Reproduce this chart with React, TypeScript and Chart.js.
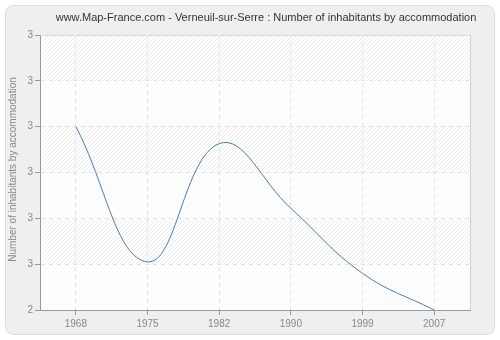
import React, { useEffect, useRef } from "react";
import { Chart, registerables } from "chart.js";

Chart.register(...registerables);

const years: string[] = ["1968", "1975", "1982", "1990", "1999", "2007"];
const inhabitantsPerHousing: number[] = [2.8, 2.505, 2.763, 2.622, 2.48, 2.4];
const yMin = 2.4;
const yMax = 3.0;
const yStep = 0.1;
const chartTitle = "www.Map-France.com - Verneuil-sur-Serre : Number of inhabitants by accommodation";
const yAxisTitle = "Number of inhabitants by accommodation";

const FONT = "'Liberation Sans', Arial, sans-serif";

function roundRect(ctx: CanvasRenderingContext2D, x: number, y: number, w: number, h: number, r: number) {
  ctx.beginPath();
  ctx.moveTo(x + r, y);
  ctx.lineTo(x + w - r, y);
  ctx.arcTo(x + w, y, x + w, y + r, r);
  ctx.lineTo(x + w, y + h - r);
  ctx.arcTo(x + w, y + h, x + w - r, y + h, r);
  ctx.lineTo(x + r, y + h);
  ctx.arcTo(x, y + h, x, y + h - r, r);
  ctx.lineTo(x, y + r);
  ctx.arcTo(x, y, x + r, y, r);
  ctx.closePath();
}

const backgroundPlugin = {
  id: "bgPanel",
  beforeDraw(chart: any) {
    const ctx: CanvasRenderingContext2D = chart.ctx;
    const { width, height } = chart;
    const ca = chart.chartArea;
    ctx.save();
    ctx.fillStyle = "#ffffff";
    ctx.fillRect(0, 0, width, height);
    roundRect(ctx, 5.5, 5.5, width - 11, height - 11, 8);
    ctx.fillStyle = "#efefef";
    ctx.fill();
    ctx.strokeStyle = "#dcdcdc";
    ctx.lineWidth = 1;
    ctx.stroke();

    // plot area
    ctx.fillStyle = "#ffffff";
    ctx.fillRect(ca.left, ca.top, ca.right - ca.left, ca.bottom - ca.top);
    const pc = document.createElement("canvas");
    pc.width = 4;
    pc.height = 4;
    const p = pc.getContext("2d")!;
    p.strokeStyle = "rgba(0,0,0,0.07)";
    p.lineWidth = 1;
    p.beginPath();
    p.moveTo(0, 4);
    p.lineTo(4, 0);
    p.moveTo(-1, 1);
    p.lineTo(1, -1);
    p.moveTo(3, 5);
    p.lineTo(5, 3);
    p.stroke();
    const pattern = ctx.createPattern(pc, "repeat");
    if (pattern) {
      ctx.fillStyle = pattern;
      ctx.fillRect(ca.left, ca.top, ca.right - ca.left, ca.bottom - ca.top);
    }
    // alternating lighter bands
    const ys = chart.scales.y;
    const n = Math.round((yMax - yMin) / yStep);
    ctx.fillStyle = "rgba(255,255,255,0.6)";
    for (let i = 0; i < n; i += 2) {
      const yb = ys.getPixelForValue(yMin + i * yStep);
      const yt = ys.getPixelForValue(yMin + (i + 1) * yStep);
      ctx.fillRect(ca.left, yt, ca.right - ca.left, yb - yt);
    }
    // plot frame
    ctx.strokeStyle = "#d0d0d0";
    ctx.strokeRect(ca.left + 0.5, ca.top + 0.5, ca.right - ca.left, ca.bottom - ca.top);
    ctx.restore();
  },
  afterDraw(chart: any) {
    const ctx: CanvasRenderingContext2D = chart.ctx;
    const ca = chart.chartArea;
    ctx.save();
    ctx.fillStyle = "#333333";
    ctx.font = `11px ${FONT}`;
    ctx.textAlign = "center";
    ctx.textBaseline = "middle";
    ctx.fillText(chartTitle, 266, 18);
    ctx.translate(13, (ca.top + ca.bottom) / 2 - 3);
    ctx.rotate(-Math.PI / 2);
    ctx.fillStyle = "#888888";
    ctx.font = `10px ${FONT}`;
    ctx.fillText(yAxisTitle, 0, 0);
    ctx.restore();
  },
};

export default function App() {
  const ref = useRef<HTMLCanvasElement | null>(null);
  useEffect(() => {
    if (!ref.current) return;
    const chart = new Chart(ref.current, {
      type: "line",
      data: {
        labels: years,
        datasets: [
          {
            data: inhabitantsPerHousing,
            borderColor: "#4a7ab4",
            borderWidth: 1,
            pointRadius: 0,
            fill: false,
            tension: 0.42,
          },
        ],
      },
      options: {
        animation: false,
        responsive: false,
        devicePixelRatio: 1,
        layout: { padding: { left: 0, right: 30, top: 35, bottom: 0 } },
        plugins: { legend: { display: false }, tooltip: { enabled: false }, title: { display: false } },
        scales: {
          x: {
            type: "category",
            offset: true,
            grid: {
              offset: false,
              color: "#e2e2e2",
              tickColor: "#999999",
              tickLength: 5,
              tickBorderDash: [],
              drawOnChartArea: true,
            },
            border: { color: "#999999", width: 1, dash: [4, 4] },
            ticks: { color: "#888888", font: { family: FONT, size: 10 }, padding: 3, maxRotation: 0 },
            afterFit(scale: any) {
              scale.height = 30;
            },
          },
          y: {
            min: yMin,
            max: yMax,
            grid: {
              color: "#e2e2e2",
              tickColor: "#999999",
              tickLength: 5,
              tickBorderDash: [],
            },
            border: { color: "#999999", width: 1, dash: [4, 4] },
            ticks: {
              stepSize: yStep,
              color: "#888888",
              font: { family: FONT, size: 10 },
              padding: 2,
              callback: (v: any) => String(Math.round(Number(v))),
            },
            afterFit(scale: any) {
              scale.width = 40;
            },
          },
        },
      },
      plugins: [backgroundPlugin],
    });
    return () => chart.destroy();
  }, []);
  return (
    <div style={{ position: "fixed", left: 0, top: 0, width: 500, height: 340 }}>
      <canvas ref={ref} width={500} height={340} style={{ width: 500, height: 340 }} />
    </div>
  );
}
